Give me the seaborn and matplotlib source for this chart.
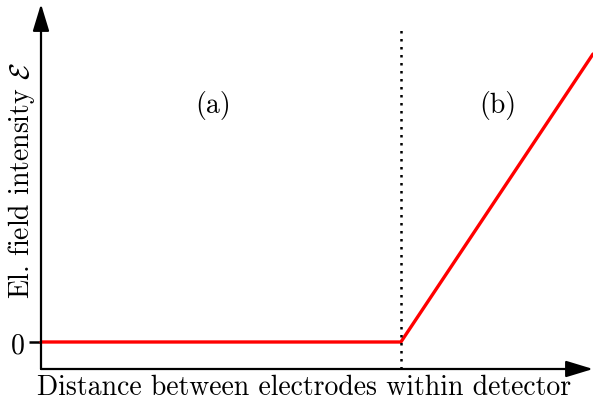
import matplotlib
matplotlib.use("Agg")
import matplotlib.pyplot as plt
import seaborn as sns
import pandas as pd

# Field profile across the detector: zero in region (a), rising linearly in region (b)
distance = [0.0, 0.652, 1.0]
field = [0.0, 0.0, 1.0]
boundary = 0.652
region_labels = ["(a)", "(b)"]
region_x = [0.312, 0.828]
region_y = [0.826, 0.826]

sns.set_style("white")
plt.rcParams["font.family"] = ["cmr10", "DejaVu Serif"]
plt.rcParams["mathtext.fontset"] = "cm"
plt.rcParams["axes.formatter.use_mathtext"] = True
plt.rcParams["text.color"] = "black"
plt.rcParams["axes.labelcolor"] = "black"
plt.rcParams["ytick.color"] = "black"

fig = plt.figure(figsize=(5.93, 4.06), dpi=100)
ax = fig.add_axes([41 / 593, 36 / 406, 1 - 41 / 593, (370 - 5) / 406])

df = pd.DataFrame({"x": distance, "E": field})
sns.lineplot(data=df, x="x", y="E", ax=ax, color="#ff0000", lw=2.4, clip_on=False)

ax.set_xlim(0, 1)
ax.set_ylim(-27 / 288, 338 / 288)

# boundary between regions
ax.plot([boundary, boundary], [-27 / 288, 317 / 288], color="black", lw=1.8,
        linestyle=(0, (1.0, 2.2)), dash_capstyle="butt", clip_on=False)

for lab, x, y in zip(region_labels, region_x, region_y):
    ax.text(x, y, lab, ha="center", va="center", fontsize=20)

for s in ax.spines.values():
    s.set_visible(False)

# axes drawn as arrows
arrow_kw = dict(arrowstyle="-|>,head_length=0.92,head_width=0.28", color="black",
                lw=1.6, shrinkA=0, shrinkB=0, mutation_scale=18)
ax.annotate("", xy=(0, 1), xytext=(0, 0), xycoords="axes fraction",
            arrowprops=arrow_kw, annotation_clip=False)
ax.annotate("", xy=(1, 0), xytext=(0, 0), xycoords="axes fraction",
            arrowprops=arrow_kw, annotation_clip=False)

ax.set_xticks([])
ax.set_yticks([0])
ax.set_yticklabels(["0"], fontsize=20)
ax.tick_params(axis="y", length=9, width=1.8, pad=3, left=True, color="black")

ax.set_xlabel("Distance between electrodes within detector", fontsize=20, va="center")
ax.xaxis.set_label_coords(0.476, -0.049)
ax.set_ylabel(r"El. field intensity $\mathcal{E}$", fontsize=20, va="center")
ax.yaxis.set_label_coords(-0.036, 0.518)

fig.savefig("out.png", dpi=100)
